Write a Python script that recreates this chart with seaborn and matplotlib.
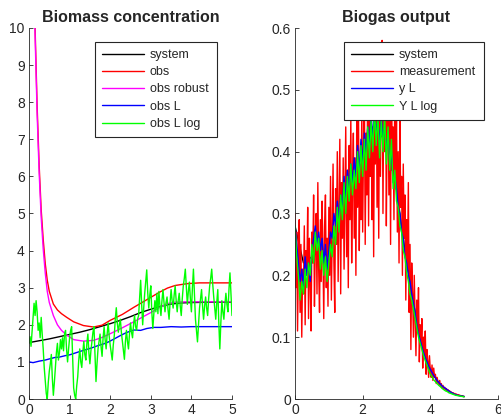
import numpy as np
import pandas as pd
import matplotlib
matplotlib.use("Agg")
import matplotlib.pyplot as plt
import seaborn as sns

# ---------------- Biomass concentration (left) ----------------
t_smooth = [0.0, 0.25, 0.5, 0.75, 1.0, 1.25, 1.5, 1.75, 2.0, 2.25, 2.5, 2.75,
            3.0, 3.25, 3.5, 3.75, 4.0, 4.5, 5.0]
system_x = [1.52, 1.57, 1.62, 1.68, 1.74, 1.80, 1.87, 1.95, 2.03, 2.12, 2.22, 2.33,
            2.42, 2.50, 2.56, 2.59, 2.60, 2.61, 2.61]

t_obs = [0.0, 0.1, 0.15, 0.2, 0.25, 0.3, 0.35, 0.4, 0.45, 0.5, 0.6, 0.7, 0.8, 0.93,
         1.1, 1.34, 1.59, 1.8, 2.0, 2.3, 2.58, 3.0, 3.2, 3.41, 3.6, 3.9, 4.2, 4.6, 5.0]
obs_x = [16.0, 11.8, 10.0, 7.9, 6.3, 5.1, 4.3, 3.65, 3.2, 2.9, 2.56, 2.4, 2.3, 2.2,
         2.08, 1.98, 1.94, 1.99, 2.12, 2.28, 2.47, 2.74, 2.87, 2.99, 3.06, 3.11, 3.13, 3.13, 3.13]
obs_robust_x = [16.0, 11.6, 9.8, 7.7, 6.1, 4.9, 4.05, 3.4, 2.9, 2.6, 2.25, 2.0, 1.85, 1.72,
                1.6, 1.56, 1.58, 1.66, 1.76, 1.92, 2.08, 2.33, 2.46, 2.57, 2.61, 2.62, 2.62, 2.62, 2.62]

t_L = [0.0, 0.1, 0.25, 0.4, 0.5, 0.64, 0.75, 0.9, 1.0, 1.14, 1.25, 1.4, 1.55, 1.7, 1.85,
       1.96, 2.1, 2.25, 2.4, 2.58, 2.75, 2.9, 3.07, 3.25, 3.5, 3.75, 4.0, 4.5, 5.0]
obs_L_x = [1.00, 0.98, 1.02, 1.05, 1.08, 1.12, 1.13, 1.17, 1.19, 1.24, 1.28, 1.33, 1.38,
           1.44, 1.49, 1.54, 1.62, 1.71, 1.79, 1.86, 1.85, 1.90, 1.93, 1.93, 1.95, 1.94, 1.95, 1.95, 1.95]

t_fine = [round(0.025 * i, 3) for i in range(201)]
obs_L_log_x = [
    1.50, 1.68, 1.42, 1.80, 2.15, 2.58, 2.25, 2.65, 2.35, 1.85,
    2.05, 1.65, 2.20, 1.75, 1.35, 0.85, 0.50, 0.15, 0.00, 0.45,
    0.75, 0.95, 1.20, 0.55, 0.10, 0.45, 0.85, 1.25, 1.50, 1.05,
    1.25, 1.60, 1.35, 1.65, 1.30, 1.75, 1.85, 1.35, 1.00, 1.35,
    1.65, 1.85, 1.95, 1.15, 0.30, 0.10, 0.00, 0.35, 0.60, 1.05,
    1.35, 1.00, 0.85, 1.25, 1.55, 1.20, 1.05, 1.50, 1.75, 1.25,
    0.95, 1.30, 1.55, 1.80, 1.95, 1.20, 0.47, 0.95, 1.35, 1.55,
    1.75, 1.40, 1.15, 1.65, 1.95, 1.60, 1.35, 1.75, 2.05, 1.70,
    1.45, 1.25, 1.05, 1.45, 1.70, 2.15, 2.46, 2.05, 1.80, 2.00,
    2.15, 1.80, 1.55, 1.30, 1.07, 1.55, 1.85, 1.55, 1.35, 1.75,
    2.05, 1.80, 1.65, 2.00, 2.25, 1.95, 1.85, 2.15, 2.25, 2.75,
    3.20, 2.55, 2.00, 2.45, 2.85, 3.15, 3.48, 2.85, 2.45, 2.80,
    3.05, 2.35, 1.90, 2.30, 2.65, 2.35, 2.85, 2.30, 2.90, 2.50,
    2.25, 2.65, 2.95, 2.60, 2.35, 2.60, 2.75, 2.40, 2.15, 2.60,
    2.95, 2.65, 2.45, 2.80, 3.05, 2.65, 2.35, 2.65, 2.85, 2.50,
    2.25, 2.70, 3.05, 3.25, 3.50, 3.00, 2.55, 2.90, 3.15, 2.70,
    2.35, 3.00, 3.50, 2.80, 2.15, 1.85, 1.54, 2.00, 2.45, 2.70,
    2.95, 2.50, 2.15, 2.50, 2.75, 2.45, 2.25, 2.70, 3.05, 3.25,
    3.50, 3.10, 2.75, 2.45, 2.15, 2.60, 2.95, 2.05, 1.35, 2.05,
    2.65, 2.35, 2.15, 2.55, 2.85, 2.55, 2.35, 2.95, 3.40, 2.80,
    2.25]

# ---------------- Biogas output (right) ----------------
t_sys_y = [0.0, 0.25, 0.5, 0.75, 1.0, 1.25, 1.5, 1.75, 2.0, 2.25, 2.5, 2.75, 3.0,
           3.25, 3.5, 3.75, 4.0, 4.25, 4.5, 4.75, 5.0]
system_y = [0.28, 0.22, 0.23, 0.24, 0.23, 0.28, 0.32, 0.35, 0.38, 0.41, 0.43, 0.41, 0.34,
            0.24, 0.155, 0.09, 0.048, 0.025, 0.014, 0.007, 0.004]

measurement_y = [
    0.30, 0.18, 0.27, 0.11, 0.22, 0.29, 0.14, 0.25, 0.10, 0.21,
    0.17, 0.28, 0.12, 0.24, 0.20, 0.31, 0.13, 0.26, 0.19, 0.11,
    0.27, 0.22, 0.33, 0.15, 0.25, 0.30, 0.17, 0.35, 0.21, 0.14,
    0.29, 0.19, 0.32, 0.24, 0.13, 0.28, 0.33, 0.18, 0.26, 0.15,
    0.31, 0.20, 0.36, 0.16, 0.27, 0.38, 0.22, 0.14, 0.34, 0.25,
    0.40, 0.19, 0.30, 0.42, 0.17, 0.35, 0.26, 0.39, 0.21, 0.33,
    0.44, 0.23, 0.37, 0.18, 0.41, 0.29, 0.46, 0.22, 0.35, 0.43,
    0.26, 0.39, 0.20, 0.45, 0.31, 0.48, 0.24, 0.38, 0.29, 0.47,
    0.27, 0.41, 0.50, 0.25, 0.43, 0.33, 0.52, 0.28, 0.46, 0.36,
    0.53, 0.29, 0.44, 0.23, 0.50, 0.38, 0.55, 0.31, 0.47, 0.26,
    0.54, 0.36, 0.49, 0.58, 0.30, 0.51, 0.40, 0.56, 0.28, 0.45,
    0.52, 0.33, 0.48, 0.25, 0.55, 0.37, 0.44, 0.29, 0.51, 0.34,
    0.46, 0.27, 0.40, 0.22, 0.45, 0.31, 0.36, 0.20, 0.38, 0.26,
    0.33, 0.16, 0.29, 0.21, 0.35, 0.14, 0.25, 0.08, 0.22, 0.17,
    0.10, 0.20, 0.13, 0.07, 0.16, 0.11, 0.18, 0.06, 0.12, 0.09,
    0.13, 0.05, 0.10, 0.07, 0.11, 0.04, 0.08, 0.06, 0.035, 0.07,
    0.045, 0.035, 0.055, 0.03, 0.05, 0.035, 0.04, 0.025, 0.035, 0.028,
    0.024, 0.03, 0.02, 0.025, 0.018, 0.022, 0.016, 0.019, 0.015, 0.017,
    0.013, 0.015, 0.012, 0.013, 0.010, 0.011, 0.009, 0.010, 0.008, 0.009,
    0.007, 0.008, 0.006, 0.007, 0.006, 0.006, 0.005, 0.005, 0.005, 0.004,
    0.004]

t_mid = [round(0.05 * i, 2) for i in range(101)]
y_L = [
    0.28, 0.25, 0.22, 0.19, 0.21, 0.18, 0.23, 0.20, 0.22, 0.19,
    0.24, 0.26, 0.28, 0.25, 0.27, 0.24, 0.26, 0.22, 0.25, 0.21,
    0.24, 0.27, 0.26, 0.30, 0.28, 0.32, 0.29, 0.33, 0.31, 0.36,
    0.32, 0.37, 0.34, 0.38, 0.35, 0.39, 0.36, 0.41, 0.37, 0.42,
    0.38, 0.43, 0.40, 0.44, 0.41, 0.46, 0.42, 0.47, 0.43, 0.45,
    0.41, 0.46, 0.42, 0.44, 0.40, 0.43, 0.38, 0.40, 0.35, 0.36,
    0.34, 0.31, 0.30, 0.27, 0.26, 0.23, 0.22, 0.20, 0.19, 0.17,
    0.155, 0.14, 0.12, 0.105, 0.095, 0.085, 0.075, 0.067, 0.06, 0.053,
    0.048, 0.043, 0.038, 0.034, 0.03, 0.027, 0.024, 0.021, 0.019, 0.017,
    0.015, 0.013, 0.011, 0.0095, 0.008, 0.007, 0.006, 0.0055, 0.005, 0.0045,
    0.004]

Y_L_log = [
    0.28, 0.23, 0.20, 0.16, 0.19, 0.17, 0.21, 0.18, 0.22, 0.20,
    0.25, 0.22, 0.27, 0.24, 0.26, 0.21, 0.24, 0.20, 0.23, 0.19,
    0.22, 0.25, 0.23, 0.28, 0.25, 0.31, 0.27, 0.33, 0.29, 0.35,
    0.30, 0.36, 0.32, 0.38, 0.33, 0.37, 0.34, 0.40, 0.35, 0.41,
    0.36, 0.42, 0.37, 0.44, 0.39, 0.45, 0.40, 0.47, 0.41, 0.46,
    0.39, 0.45, 0.40, 0.46, 0.38, 0.44, 0.37, 0.42, 0.34, 0.37,
    0.32, 0.31, 0.28, 0.27, 0.24, 0.23, 0.205, 0.19, 0.17, 0.16,
    0.145, 0.13, 0.115, 0.10, 0.09, 0.08, 0.07, 0.062, 0.055, 0.047,
    0.04, 0.036, 0.031, 0.028, 0.025, 0.022, 0.02, 0.017, 0.015, 0.013,
    0.012, 0.01, 0.009, 0.008, 0.007, 0.006, 0.0055, 0.005, 0.0045, 0.004,
    0.0035]

# ---------------- plotting ----------------
sns.set_style("ticks")
plt.rcParams['font.family'] = ['Liberation Sans', 'DejaVu Sans']
axis_col = '#262626'
plt.rcParams.update({
    'axes.edgecolor': axis_col, 'axes.linewidth': 0.6,
    'xtick.color': axis_col, 'ytick.color': axis_col,
    'xtick.direction': 'in', 'ytick.direction': 'in',
    'xtick.major.size': 3, 'ytick.major.size': 3,
    'xtick.major.width': 0.6, 'ytick.major.width': 0.6,
    'xtick.labelsize': 10, 'ytick.labelsize': 10,
})

fig = plt.figure(figsize=(5.01, 4.19), dpi=100)
axL = fig.add_axes([29 / 501, 20 / 419, 203 / 501, 371 / 419])
axR = fig.add_axes([295 / 501, 20 / 419, 203 / 501, 371 / 419])

lw = 1.0

def line(ax, x, y, color, label):
    sns.lineplot(x=x, y=y, ax=ax, color=color, label=label, linewidth=lw,
                 estimator=None, sort=False)

line(axL, t_smooth, system_x, 'black', 'system')
line(axL, t_obs, obs_x, '#ff0000', 'obs')
line(axL, t_obs, obs_robust_x, '#ff00ff', 'obs robust')
line(axL, t_L, obs_L_x, '#0000ff', 'obs L')
line(axL, t_fine, obs_L_log_x, '#00ff00', 'obs L log')

line(axR, t_sys_y, system_y, 'black', 'system')
line(axR, t_fine, measurement_y, '#ff0000', 'measurement')
line(axR, t_mid, y_L, '#0000ff', 'y L')
line(axR, t_mid, Y_L_log, '#00ff00', 'Y L log')

axL.set_xlim(0, 5)
axL.set_ylim(0, 10)
axL.set_xticks(range(0, 6))
axL.set_yticks(range(0, 11))
axR.set_xlim(0, 6)
axR.set_ylim(0, 0.6)
axR.set_xticks([0, 2, 4, 6])
axR.set_yticks([0, 0.1, 0.2, 0.3, 0.4, 0.5, 0.6])
axR.set_yticklabels(['0', '0.1', '0.2', '0.3', '0.4', '0.5', '0.6'])

for ax, title in [(axL, 'Biomass concentration'), (axR, 'Biogas output')]:
    sns.despine(ax=ax)
    ax.set_xlabel('')
    ax.set_ylabel('')
    ax.set_title(title, fontsize=11.5, fontweight='bold', pad=4)
    ax.tick_params(axis='both', pad=3)

legkw = dict(loc='upper left', mode='expand', fontsize=9, frameon=True, fancybox=False,
             edgecolor='#262626', framealpha=1, handlelength=3.4,
             handletextpad=0.45, labelspacing=0.42, borderpad=0.55,
             borderaxespad=0)
legL = axL.legend(bbox_to_anchor=(0.325, 0.0, 0.601, 0.962), **legkw)
legR = axR.legend(bbox_to_anchor=(0.241, 0.0, 0.690, 0.962), **legkw)
for leg in (legL, legR):
    leg.get_frame().set_linewidth(0.8)

fig.savefig('out.png', dpi=100)
